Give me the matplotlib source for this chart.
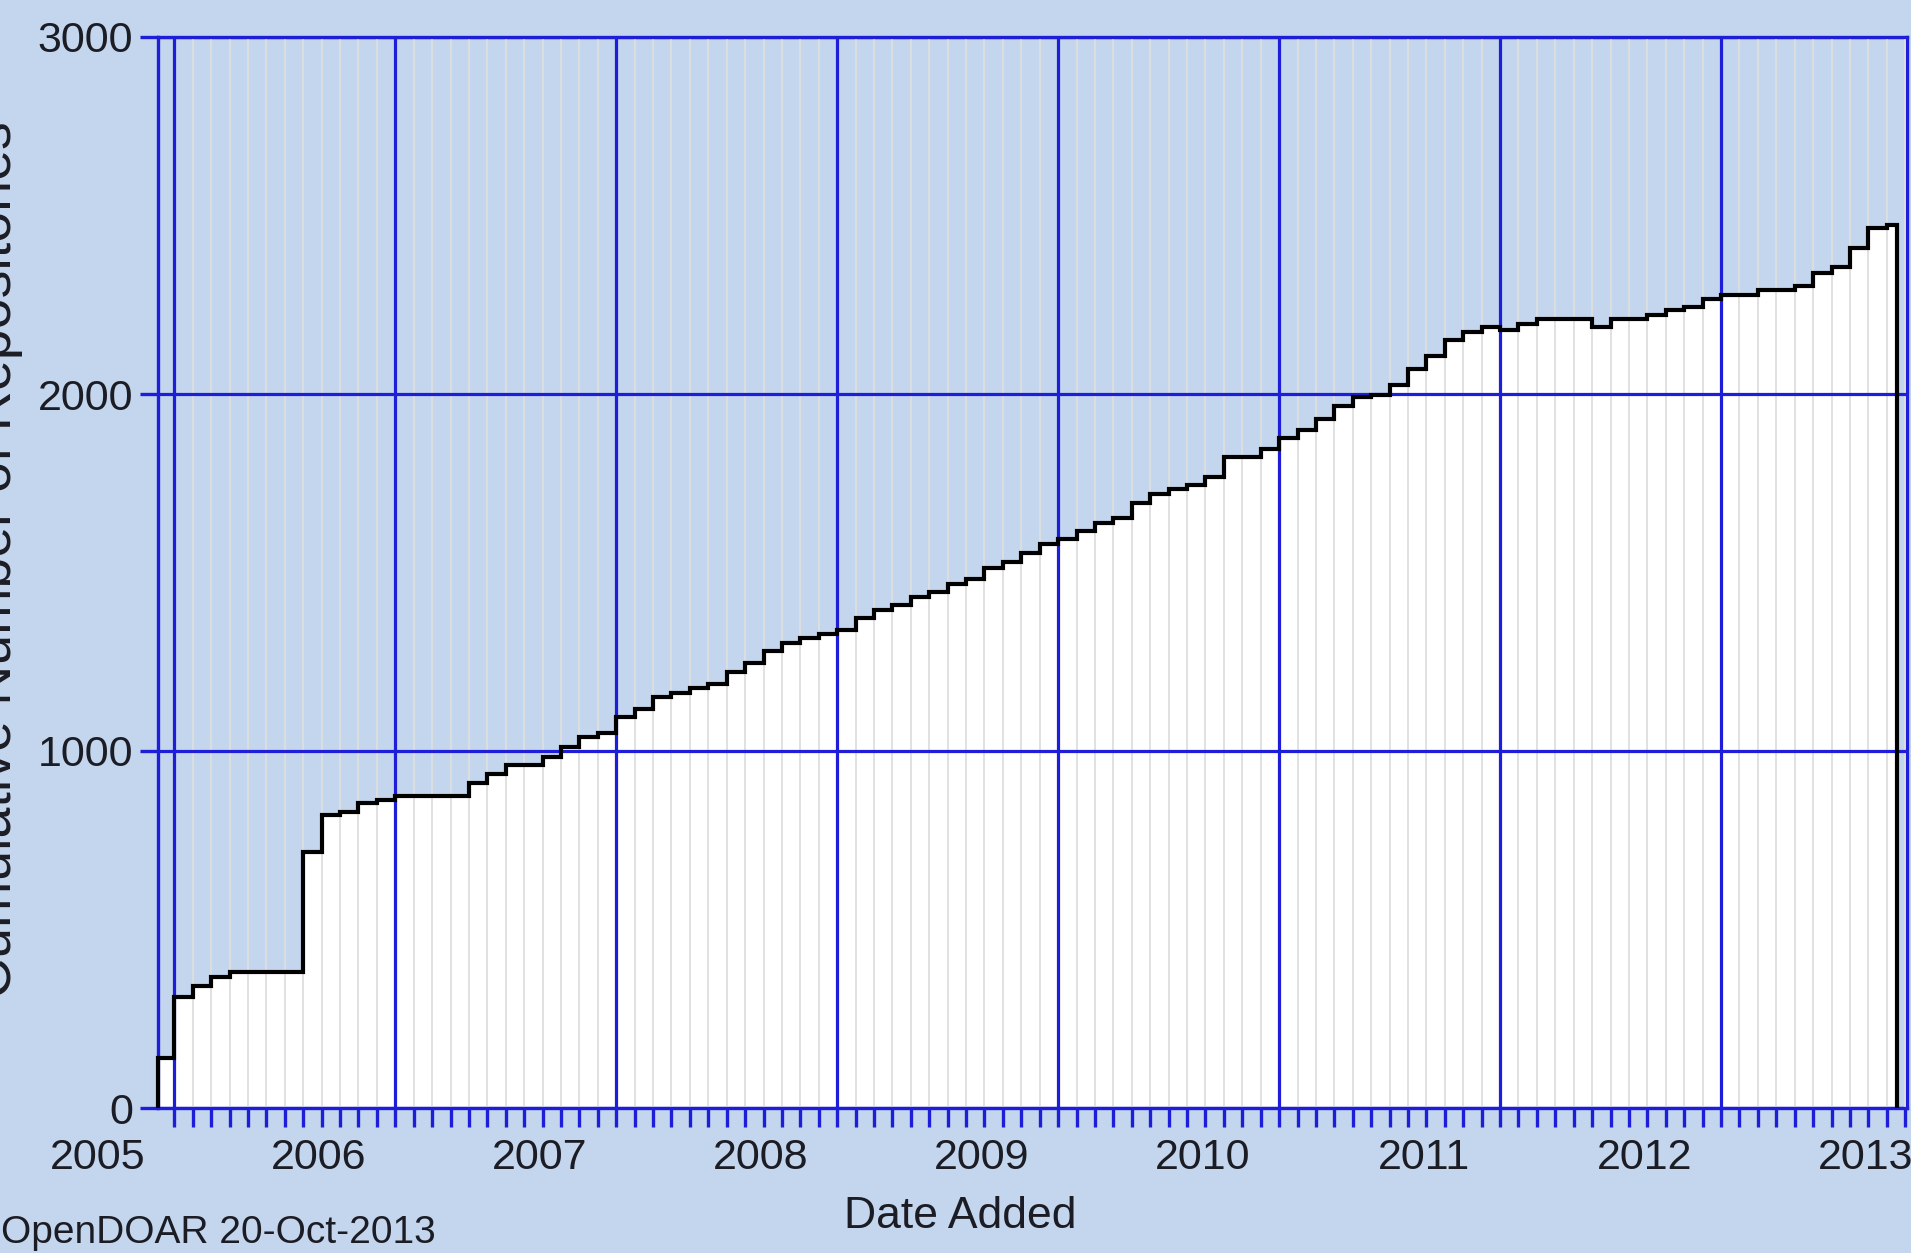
import numpy as np
import matplotlib
matplotlib.use("Agg")
import matplotlib.pyplot as plt
from matplotlib import font_manager

# cumulative number of repositories, one value per month
# first bar = Dec 2005 (partial), then Jan 2006 ... Oct 2013 (partial)
month_edges = [-0.87] + list(range(0, 94)) + [93.56]   # months since Jan 2006
cumulative = [139,
              312, 342, 368, 382, 382, 382, 382, 718, 820, 830, 855, 864,
              875, 875, 875, 875, 911, 935, 961, 961, 982, 1012, 1040, 1051,
              1096, 1119, 1152, 1163, 1176, 1188, 1222, 1246, 1281, 1303, 1316, 1328,
              1339, 1372, 1395, 1409, 1432, 1446, 1468, 1481, 1512, 1530, 1554, 1580,
              1593, 1617, 1638, 1652, 1696, 1720, 1733, 1745, 1767, 1824, 1824, 1845,
              1878, 1899, 1931, 1966, 1992, 1996, 2026, 2070, 2106, 2150, 2173, 2187,
              2178, 2197, 2211, 2211, 2211, 2187, 2209, 2209, 2220, 2234, 2243, 2266,
              2277, 2277, 2290, 2290, 2303, 2339, 2355, 2408, 2466, 2473]
year_labels = [2005, 2006, 2007, 2008, 2009, 2010, 2011, 2012, 2013]
y_ticks = [0, 1000, 2000, 3000]

names = set(f.name for f in font_manager.fontManager.ttflist)
fam = 'Liberation Sans Narrow' if 'Liberation Sans Narrow' in names else 'Liberation Sans'
plt.rcParams['font.family'] = [fam, 'DejaVu Sans']

bg = '#c3d6ee'
blue = '#1e1ed8'
txt = '#1c1c24'

fig = plt.figure(figsize=(19.11, 12.53), dpi=100, facecolor=bg)
ax = fig.add_axes([158.3 / 1911, 1 - 1108 / 1253, (1907 - 158.3) / 1911, (1108 - 37) / 1253])
ax.set_facecolor(bg)

# white bars + black outline
ax.stairs(cumulative, month_edges, baseline=0, fill=True, facecolor='white',
          edgecolor='none', zorder=1)
ax.stairs(cumulative, month_edges, baseline=0, fill=True, facecolor='none',
          edgecolor='black', linewidth=3.0, zorder=3, clip_on=False)

ax.set_xlim(-0.87, 94.1)
ax.set_ylim(0, 3000)

ax.set_xticks(np.arange(0, 85, 12))
ax.set_xticks(np.arange(0, 95, 1), minor=True)
ax.set_xticklabels([])
ax.set_yticks(y_ticks)
ax.set_yticklabels([str(v) for v in y_ticks], fontsize=31, color=txt)

ax.grid(axis='x', which='major', color=blue, linewidth=2.3)
ax.grid(axis='x', which='minor', color='#dedede', linewidth=1.3)
ax.grid(axis='y', which='major', color=blue, linewidth=2.3)
ax.set_axisbelow(False)

ax.tick_params(axis='x', which='both', direction='out', length=14, width=2.4,
               color=blue)
ax.tick_params(axis='y', which='major', direction='out', length=13, width=2.4,
               color=blue, pad=5)

for s in ['left', 'right', 'top', 'bottom']:
    ax.spines[s].set_color(blue)
    ax.spines[s].set_linewidth(2.4)

# year labels sit a few months after each January gridline
for yr in year_labels:
    ax.text(12 * (yr - 2006) + 7.86, -0.047, str(yr), transform=ax.get_xaxis_transform(),
            ha='center', va='center', fontsize=31, color=txt, clip_on=False)

fig.text(960 / 1911, 1 - 1228 / 1253, 'Date Added', ha='center', va='baseline',
         fontsize=32, color=txt)
fig.text(1 / 1911, 1 - 1243 / 1253, 'OpenDOAR 20-Oct-2013', ha='left', va='baseline',
         fontsize=28, color=txt)
fig.text(23 / 1911, 1 - 560 / 1253, 'Cumulative Number of Repositories', rotation=90,
         ha='right', va='center', fontsize=40, color=txt)

fig.savefig('out.png', dpi=100, facecolor=bg)
